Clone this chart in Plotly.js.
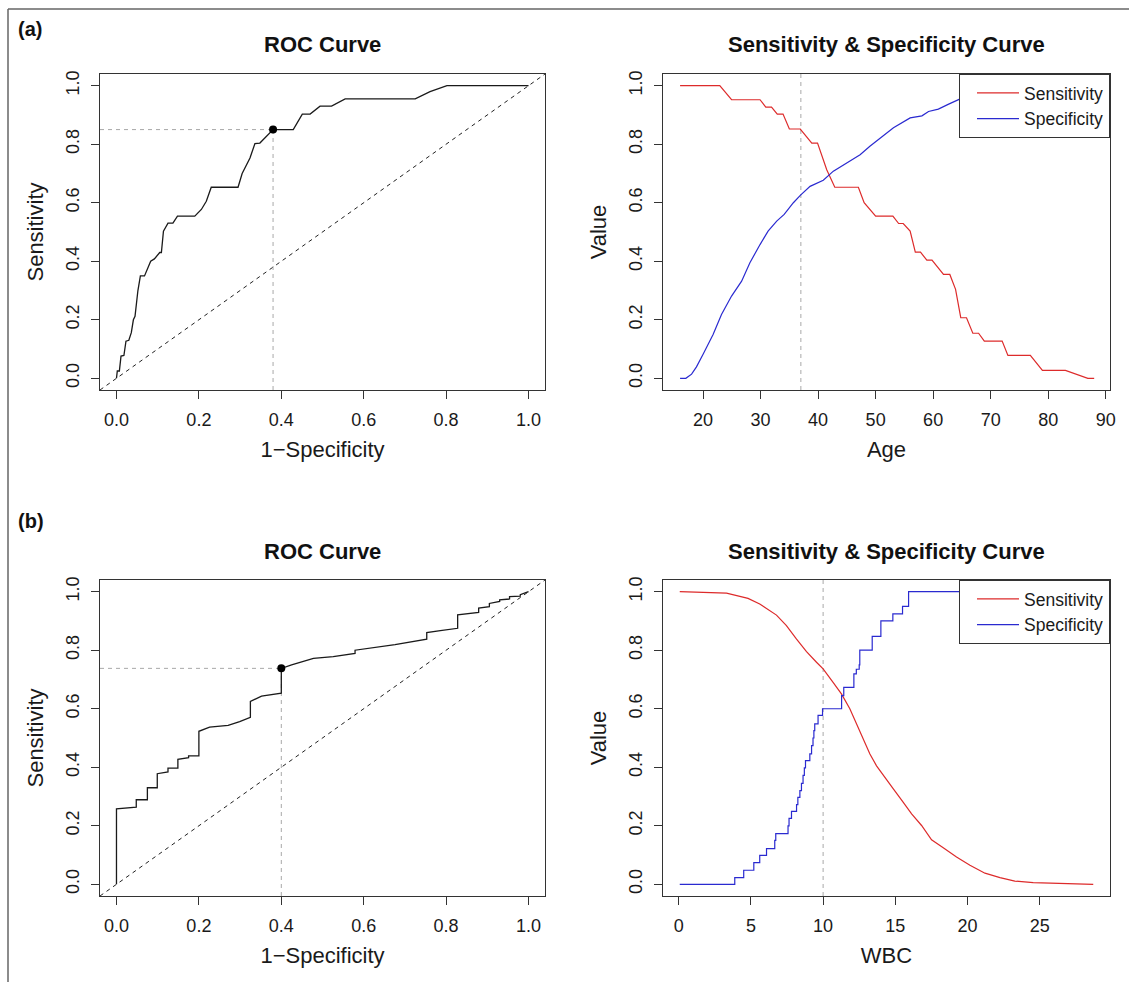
<!DOCTYPE html>
<html><head><meta charset="utf-8">
<script src="https://cdn.plot.ly/plotly-3.0.1.min.js"></script>
<style>html,body{margin:0;padding:0;background:#fff;} #chart{width:1129px;height:982px;}</style>
</head><body><div id="chart"></div>
<script>
// ---------- data ----------
const rocA_fpr = [0, 0.002, 0.007, 0.011, 0.018, 0.023, 0.030, 0.036, 0.041, 0.045, 0.052, 0.058, 0.068, 0.083, 0.092, 0.105, 0.109, 0.114, 0.125, 0.137, 0.148, 0.190, 0.206, 0.218, 0.230, 0.295, 0.305, 0.324, 0.336, 0.348, 0.380, 0.429, 0.451, 0.470, 0.494, 0.522, 0.555, 0.725, 0.761, 0.802, 1.000];
const rocA_tpr = [0, 0.025, 0.025, 0.076, 0.078, 0.127, 0.130, 0.156, 0.200, 0.212, 0.300, 0.350, 0.350, 0.400, 0.408, 0.430, 0.430, 0.503, 0.530, 0.530, 0.554, 0.554, 0.577, 0.605, 0.653, 0.653, 0.700, 0.753, 0.802, 0.804, 0.850, 0.850, 0.903, 0.903, 0.930, 0.930, 0.955, 0.955, 0.980, 1.000, 1.000];
const rocA_best = [0.38, 0.85];

const ageSensX = [16, 22.9, 24.95, 29.9, 30.9, 31.9, 32.9, 33.9, 35.0, 36.9, 38.9, 39.9, 41.5, 42.9, 47.0, 48.0, 50.0, 53.0, 54.0, 54.8, 56.0, 56.9, 57.8, 58.9, 59.8, 61.8, 62.9, 63.9, 64.8, 65.8, 66.9, 67.9, 68.9, 72.0, 73.0, 76.9, 79.0, 83.0, 86.9, 88];
const ageSensY = [1, 1, 0.952, 0.952, 0.927, 0.927, 0.903, 0.903, 0.852, 0.852, 0.804, 0.804, 0.713, 0.653, 0.653, 0.600, 0.554, 0.554, 0.529, 0.529, 0.503, 0.431, 0.431, 0.404, 0.404, 0.355, 0.355, 0.304, 0.207, 0.207, 0.154, 0.154, 0.127, 0.127, 0.078, 0.078, 0.027, 0.027, 0, 0];
const ageSpecX = [16, 17.0, 18.0, 18.85, 20.0, 21.74, 23.2, 24.95, 26.7, 28.14, 29.9, 31.3, 32.8, 34.1, 35.7, 36.9, 38.6, 40.9, 42.65, 45.0, 47.3, 49.0, 50.8, 53.1, 56.0, 58.05, 59.2, 60.9, 62.7, 64.7, 68, 72, 76, 88];
const ageSpecY = [0, 0, 0.014, 0.039, 0.082, 0.150, 0.218, 0.281, 0.332, 0.395, 0.457, 0.503, 0.537, 0.560, 0.600, 0.625, 0.656, 0.677, 0.708, 0.736, 0.764, 0.793, 0.821, 0.856, 0.890, 0.897, 0.912, 0.920, 0.937, 0.955, 0.975, 0.990, 1.0, 1.0];
const ageCutoff = 37;

const rocB_fpr = [0, 0, 0.048, 0.048, 0.075, 0.075, 0.099, 0.099, 0.125, 0.125, 0.149, 0.149, 0.175, 0.175, 0.200, 0.200, 0.226, 0.271, 0.299, 0.325, 0.325, 0.352, 0.400, 0.400, 0.425, 0.453, 0.478, 0.526, 0.579, 0.579, 0.627, 0.676, 0.753, 0.753, 0.786, 0.828, 0.828, 0.879, 0.879, 0.905, 0.905, 0.930, 0.930, 0.954, 0.954, 0.980, 0.980, 1.000];
const rocB_tpr = [0, 0.258, 0.264, 0.289, 0.289, 0.330, 0.330, 0.378, 0.384, 0.397, 0.397, 0.427, 0.433, 0.439, 0.439, 0.523, 0.537, 0.543, 0.556, 0.571, 0.625, 0.643, 0.653, 0.738, 0.750, 0.761, 0.772, 0.778, 0.789, 0.800, 0.810, 0.819, 0.838, 0.860, 0.867, 0.875, 0.921, 0.929, 0.944, 0.949, 0.960, 0.967, 0.972, 0.975, 0.983, 0.985, 0.990, 1.000];
const rocB_best = [0.40, 0.738];

const wbcSensX = [0.07, 3.31, 4.80, 5.61, 6.77, 7.46, 8.16, 8.85, 9.54, 10.0, 10.69, 11.28, 11.85, 12.54, 13.24, 13.70, 14.16, 14.85, 15.54, 16.13, 16.82, 17.51, 18.32, 19.24, 20.17, 21.21, 22.25, 23.28, 24.55, 26.40, 28.71];
const wbcSensY = [1.0, 0.995, 0.977, 0.958, 0.920, 0.884, 0.838, 0.795, 0.759, 0.736, 0.690, 0.650, 0.600, 0.520, 0.445, 0.405, 0.372, 0.327, 0.281, 0.241, 0.201, 0.152, 0.125, 0.093, 0.065, 0.038, 0.023, 0.011, 0.006, 0.003, 0.0];
const wbcSpecX = [0.07, 3.88, 4.50, 5.20, 5.61, 6.08, 6.65, 6.72, 7.57, 7.64, 7.81, 8.16, 8.25, 8.39, 8.50, 8.61, 8.70, 8.78, 9.08, 9.20, 9.30, 9.36, 9.42, 9.65, 9.96, 11.28, 11.43, 12.13, 12.30, 12.50, 12.54, 13.40, 14.00, 14.83, 15.50, 15.92, 28.71];
const wbcSpecY = [0, 0.023, 0.048, 0.074, 0.099, 0.122, 0.150, 0.173, 0.200, 0.225, 0.249, 0.272, 0.297, 0.320, 0.345, 0.372, 0.398, 0.423, 0.446, 0.474, 0.500, 0.525, 0.548, 0.577, 0.600, 0.645, 0.673, 0.719, 0.735, 0.750, 0.800, 0.847, 0.900, 0.924, 0.950, 1.000, 1.000];
const wbcCutoff = 10;

const unitTicks = [0, 0.2, 0.4, 0.6, 0.8, 1.0];
const unitTickText = ['0.0', '0.2', '0.4', '0.6', '0.8', '1.0'];
const ageTicks = [20, 30, 40, 50, 60, 70, 80, 90];
const wbcTicks = [0, 5, 10, 15, 20, 25];

// ---------- ranges / geometry ----------
const unitRange = [-0.04, 1.04];
const ageRange = [13.03, 90.75];
const wbcRange = [-1.09, 29.87];
const W = 1129, H = 982;
const px = v => v / W, py = v => 1 - v / H;
const colL = [px(100), px(545)], colR = [px(663), px(1110)];
const rowT = [py(390), py(74)], rowB = [py(896), py(580)];

const RED = '#dd2b2b', BLUE = '#2a2ad0', GREY = '#a8a8a8';
const FONT = 'Liberation Sans, Arial, sans-serif';

function axis(domain, range, tickvals, ticktext, anchor, title, isY) {
  const a = {
    domain: domain, range: range, anchor: anchor, tickvals: tickvals,
    showgrid: false, zeroline: false, showline: true, mirror: true,
    linecolor: '#333', linewidth: 1, ticks: 'outside', ticklen: 8, tickwidth: 1,
    tickcolor: '#333', tickfont: {size: 18, color: '#1a1a1a', family: FONT},
    title: {text: title, font: {size: 22, color: '#1a1a1a', family: FONT}, standoff: isY ? 13 : 13},
    fixedrange: true, automargin: false, ticklabelstandoff: isY ? 5 : 5
  };
  if (ticktext) a.ticktext = ticktext;
  if (isY) a.tickangle = -90;
  return a;
}

const traces = [];
function rocPanel(fpr, tpr, best, xa, ya) {
  traces.push({x: unitRange, y: unitRange, xaxis: xa, yaxis: ya, mode: 'lines', showlegend: false,
    line: {color: '#222', width: 1, dash: '4px,4px'}, hoverinfo: 'skip'});
  traces.push({x: [unitRange[0], best[0], null, best[0], best[0]], y: [best[1], best[1], null, unitRange[0], best[1]],
    xaxis: xa, yaxis: ya, mode: 'lines', showlegend: false, line: {color: GREY, width: 1, dash: '4px,4px'}, hoverinfo: 'skip'});
  traces.push({x: fpr, y: tpr, xaxis: xa, yaxis: ya, mode: 'lines', showlegend: false, line: {color: '#1a1a1a', width: 1.3}});
  traces.push({x: [best[0]], y: [best[1]], xaxis: xa, yaxis: ya, mode: 'markers', showlegend: false,
    marker: {color: '#000', size: 8}});
}
function ssPanel(sx, sy, cx, cy, cut, xa, ya, lg, specShape) {
  traces.push({x: [cut, cut], y: unitRange, xaxis: xa, yaxis: ya, mode: 'lines', showlegend: false,
    line: {color: GREY, width: 1, dash: '4px,4px'}, hoverinfo: 'skip'});
  traces.push({x: sx, y: sy, xaxis: xa, yaxis: ya, mode: 'lines', name: 'Sensitivity', legend: lg,
    line: {color: RED, width: 1.2}});
  traces.push({x: cx, y: cy, xaxis: xa, yaxis: ya, mode: 'lines', name: 'Specificity', legend: lg,
    line: {color: BLUE, width: 1.2, shape: specShape}});
}
rocPanel(rocA_fpr, rocA_tpr, rocA_best, 'x', 'y');
ssPanel(ageSensX, ageSensY, ageSpecX, ageSpecY, ageCutoff, 'x2', 'y2', 'legend', 'linear');
rocPanel(rocB_fpr, rocB_tpr, rocB_best, 'x3', 'y3');
ssPanel(wbcSensX, wbcSensY, wbcSpecX, wbcSpecY, wbcCutoff, 'x4', 'y4', 'legend2', 'hv');

function legendAt(yTop) {
  return {x: colR[1], xanchor: 'right', y: yTop, yanchor: 'top', bgcolor: '#fff', bordercolor: '#333', borderwidth: 1,
    font: {size: 17.5, color: '#1a1a1a', family: FONT}, itemwidth: 42, indentation: 12, tracegroupgap: 0};
}

function ann(text, x, y, size, bold, xanchor) {
  return {text: bold ? '<b>' + text + '</b>' : text, x: x, y: y, xref: 'paper', yref: 'paper', showarrow: false,
    xanchor: xanchor || 'center', yanchor: 'middle', font: {size: size, color: '#111', family: FONT}};
}

const layout = {
  width: W, height: H, margin: {l: 0, r: 0, t: 0, b: 0}, paper_bgcolor: '#fff', plot_bgcolor: '#fff',
  font: {family: FONT, color: '#1a1a1a'},
  xaxis: axis(colL, unitRange, unitTicks, unitTickText, 'y', '1\u2212Specificity', false),
  yaxis: axis(rowT, unitRange, unitTicks, unitTickText, 'x', 'Sensitivity', true),
  xaxis2: axis(colR, ageRange, ageTicks, null, 'y2', 'Age', false),
  yaxis2: axis(rowT, unitRange, unitTicks, unitTickText, 'x2', 'Value', true),
  xaxis3: axis(colL, unitRange, unitTicks, unitTickText, 'y3', '1\u2212Specificity', false),
  yaxis3: axis(rowB, unitRange, unitTicks, unitTickText, 'x3', 'Sensitivity', true),
  xaxis4: axis(colR, wbcRange, wbcTicks, null, 'y4', 'WBC', false),
  yaxis4: axis(rowB, unitRange, unitTicks, unitTickText, 'x4', 'Value', true),
  legend: legendAt(rowT[1]),
  legend2: legendAt(rowB[1]),
  annotations: [
    ann('(a)', px(16), py(29), 20, true, 'left'),
    ann('(b)', px(16), py(521), 20, true, 'left'),
    ann('ROC Curve', (colL[0] + colL[1]) / 2, py(44.5), 22, true),
    ann('Sensitivity &amp; Specificity Curve', (colR[0] + colR[1]) / 2, py(44.5), 22, true),
    ann('ROC Curve', (colL[0] + colL[1]) / 2, py(551), 22, true),
    ann('Sensitivity &amp; Specificity Curve', (colR[0] + colR[1]) / 2, py(551), 22, true)
  ],
  shapes: [
    {type: 'line', xref: 'paper', yref: 'paper', x0: px(8), x1: 1.02, y0: py(9), y1: py(9), line: {color: '#666', width: 1.5}},
    {type: 'line', xref: 'paper', yref: 'paper', x0: px(8), x1: px(8), y0: py(9), y1: -0.02, line: {color: '#666', width: 1.5}}
  ]
};

Plotly.newPlot('chart', traces, layout, {displayModeBar: false, staticPlot: true});
</script>
</body></html>
